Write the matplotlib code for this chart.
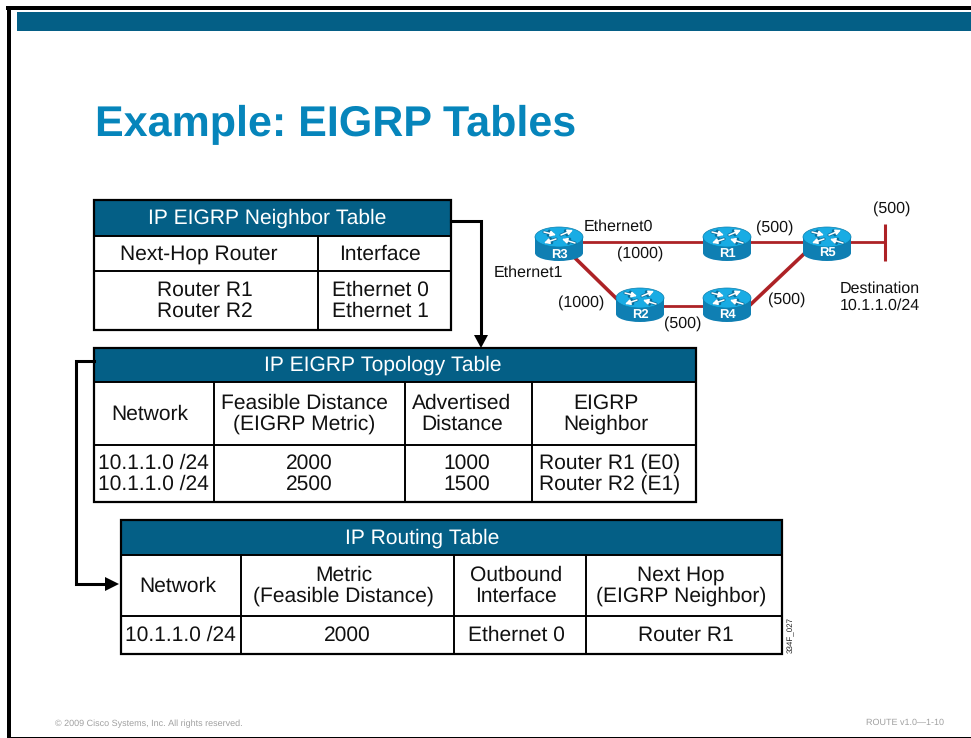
import matplotlib
matplotlib.use("Agg")
import matplotlib.pyplot as plt
from matplotlib.patches import Ellipse, Polygon, Rectangle

plt.rcParams["font.family"] = ["Liberation Sans", "DejaVu Sans"]
plt.rcParams["text.hinting"] = "no_hinting"
plt.rcParams["text.hinting_factor"] = 1

TITLE = "Example: EIGRP Tables"
COPYRIGHT = "© 2009 Cisco Systems, Inc. All rights reserved."
COURSE = "ROUTE v1.0—1-10"
FIG_CODE = "334F_027"

NEIGHBOR_TITLE = "IP EIGRP Neighbor Table"
NEIGHBOR_HEAD = ["Next-Hop Router", "Interface"]
NEIGHBOR_ROWS = [["Router R1\nRouter R2", "Ethernet 0\nEthernet 1"]]

TOPOLOGY_TITLE = "IP EIGRP Topology Table"
TOPOLOGY_HEAD = ["Network", "Feasible Distance\n(EIGRP Metric)", "Advertised\nDistance", "EIGRP\nNeighbor"]
TOPOLOGY_ROWS = [["10.1.1.0 /24\n10.1.1.0 /24", "2000\n2500", "1000\n1500", "Router R1 (E0)\nRouter R2 (E1)"]]

ROUTING_TITLE = "IP Routing Table"
ROUTING_HEAD = ["Network", "Metric\n(Feasible Distance)", "Outbound\nInterface", "Next Hop\n(EIGRP Neighbor)"]
ROUTING_ROWS = [["10.1.1.0 /24", "2000", "Ethernet 0", "Router R1"]]

ROUTERS = ["R3", "R1", "R5", "R2", "R4"]
NET_LABELS = ["Ethernet0", "Ethernet1", "(1000)", "(1000)", "(500)", "(500)", "(500)", "(500)",
              "Destination\n10.1.1.0/24"]

BAND = "#045f86"
TITLE_BLUE = "#0685bb"
RED = "#ad2226"
GREY = "#a0a0a0"

# layout, in reference pixels; router xy is the centre of the lid
ROUTER_XY = {"R3": (559, 237), "R1": (727, 237), "R5": (827, 237), "R2": (640, 298), "R4": (727, 298)}
LINK_XY = [((575, 242), (710, 242), 2.0), ((745, 242), (810, 242), 2.0), ((845, 242), (885, 242), 2.0),
           ((885, 224), (885, 261), 2.2), ((574, 257), (620, 302), 2.6), ((660, 306), (710, 306), 2.0),
           ((749, 306), (806, 252), 2.6)]
LABEL_XY = [(584, 227), (494, 273), (640, 254), (581, 303), (775, 228), (683, 324), (787, 300), (892, 209),
            (880, 297)]
# text centres: title, then each row of cells (text does not sit dead centre in the cells)
NEIGHBOR_TEXT_X = [267, [198.5, 379.5], [205, 380]]
TOPOLOGY_TEXT_X = [382.5, [150, 304, 462, 606], [153, 309, 467, 610]]
ROUTING_TEXT_X = [422.5, [178, 343.5, 516, 681], [180.5, 347, 516, 686]]


def draw_table(ax, title, head, rows, xs, ys, text_x):
    ax.add_patch(Rectangle((xs[0], ys[0]), xs[-1] - xs[0], ys[1] - ys[0], fc=BAND, ec="none"))
    ax.text(text_x[0], (ys[0] + ys[1]) / 2 + 0.5, title, color="white", fontsize=15.4, ha="center", va="center")
    ax.add_patch(Rectangle((xs[0], ys[0]), xs[-1] - xs[0], ys[-1] - ys[0], fc="none", ec="black", lw=1.6, zorder=4))
    for y in ys[1:-1]:
        ax.plot([xs[0], xs[-1]], [y, y], color="black", lw=1.4, zorder=4)
    for x in xs[1:-1]:
        ax.plot([x, x], [ys[1], ys[-1]], color="black", lw=1.4, zorder=4)
    for r, row in enumerate([head] + rows):
        for c, val in enumerate(row):
            ax.text(text_x[r + 1][c], (ys[r + 1] + ys[r + 2]) / 2 + 0.5, val, fontsize=15.4, ha="center",
                    va="center", linespacing=1.07, color="#111111")


def draw_arrow(ax, x0, y0, x1, y1):
    # white arrow with a dark rim, like the router icon
    for color, lw in [("#0b6f9c", 2.2), ("white", 1.1)]:
        ax.annotate("", xy=(x1, y1), xytext=(x0, y0), zorder=7,
                    arrowprops=dict(arrowstyle="-|>,head_width=0.16,head_length=0.3", color=color, lw=lw,
                                    shrinkA=0, shrinkB=0))


def draw_router(ax, name):
    x, y = ROUTER_XY[name]
    ax.add_patch(Ellipse((x, y + 16), 48, 16, fc="#0f7fb3", ec="none", zorder=5))
    ax.add_patch(Rectangle((x - 24, y), 48, 16, fc="#0f7fb3", ec="none", zorder=5))
    ax.add_patch(Ellipse((x, y), 48, 20, fc="#19ace4", ec="#0b7fae", lw=0.5, zorder=6))
    draw_arrow(ax, x - 15, y - 5, x - 3, y - 2)
    draw_arrow(ax, x + 2, y - 2, x + 14, y - 7)
    draw_arrow(ax, x - 3, y + 2, x - 15, y + 6)
    draw_arrow(ax, x + 16, y + 6, x + 3, y + 2)
    ax.text(x, y + 17, name, color="white", fontsize=9.5, fontweight="bold", ha="center", va="center", zorder=8)


fig = plt.figure(figsize=(9.71, 7.38), dpi=100)
ax = fig.add_axes([0, 0, 1, 1])
ax.set_xlim(0, 971)
ax.set_ylim(738, 0)
ax.axis("off")

# slide frame and top band
ax.add_patch(Rectangle((6, 6), 965, 4, fc="black", ec="none"))
ax.add_patch(Rectangle((7, 6), 4, 732, fc="black", ec="none"))
ax.add_patch(Rectangle((7, 737), 964, 1, fc="black", ec="none"))
ax.add_patch(Rectangle((17, 12), 954, 19, fc=BAND, ec="none"))

# text widths jump with the size here, 30.8 is the closest to the reference
ax.text(95, 136, TITLE, color=TITLE_BLUE, fontsize=30.8, fontweight="bold", ha="left", va="baseline")

draw_table(ax, NEIGHBOR_TITLE, NEIGHBOR_HEAD, NEIGHBOR_ROWS, [94, 318, 451], [200, 236, 271, 330], NEIGHBOR_TEXT_X)
draw_table(ax, TOPOLOGY_TITLE, TOPOLOGY_HEAD, TOPOLOGY_ROWS, [94, 214, 405, 532, 696], [348, 382, 445, 502],
           TOPOLOGY_TEXT_X)
draw_table(ax, ROUTING_TITLE, ROUTING_HEAD, ROUTING_ROWS, [121, 241, 454, 586, 782], [520, 555, 616, 654],
           ROUTING_TEXT_X)

# connectors between the tables
ax.plot([451, 481, 481], [221, 221, 336], color="black", lw=2.2, solid_joinstyle="miter")
ax.add_patch(Polygon([[474, 335], [488, 335], [481, 348]], fc="black", ec="none"))
ax.plot([94, 76, 76, 106], [361, 361, 584, 584], color="black", lw=2.2, solid_joinstyle="miter")
ax.add_patch(Polygon([[105, 577], [105, 591], [119, 584]], fc="black", ec="none"))

# network sketch
for p0, p1, lw in LINK_XY:
    ax.plot([p0[0], p1[0]], [p0[1], p1[1]], color=RED, lw=lw, zorder=2, solid_capstyle="butt")
for name in ROUTERS:
    draw_router(ax, name)

for i, (label, (x, y)) in enumerate(zip(NET_LABELS, LABEL_XY)):
    ha = "left" if i < 2 else "center"
    ax.text(x, y, label, fontsize=11.2, ha=ha, va="center", color="#111111", linespacing=1.15)

ax.text(791, 635, FIG_CODE, fontsize=5.5, rotation=90, ha="center", va="center", color="#222222")
ax.text(55, 724, COPYRIGHT, fontsize=6.6, color=GREY, ha="left", va="center")
ax.text(944, 723, COURSE, fontsize=6.7, color=GREY, ha="right", va="center")

plt.savefig("out.png", dpi=100)
